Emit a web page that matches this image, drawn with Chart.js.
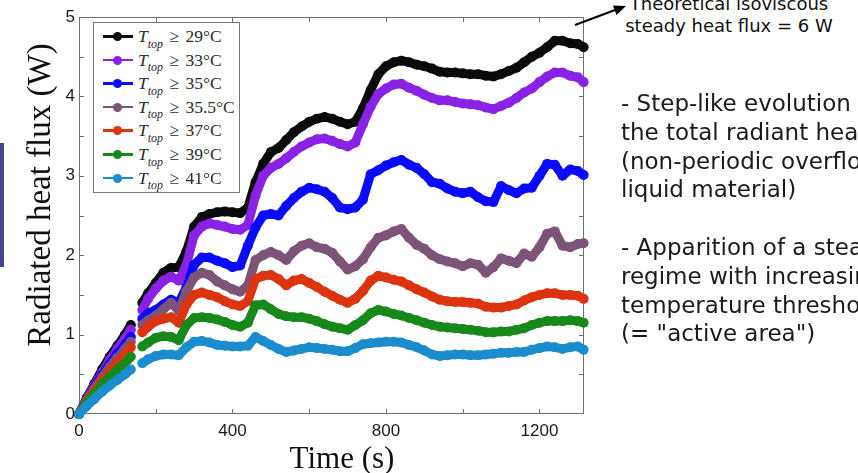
<!DOCTYPE html>
<html>
<head>
<meta charset="utf-8">
<script src="https://cdn.jsdelivr.net/npm/chart.js@4.4.1/dist/chart.umd.min.js"></script>
<style>
  html, body { margin: 0; padding: 0; background: #fff; width: 858px; height: 473px; overflow: hidden; }
  body { position: relative; }
  #wrap { position: absolute; left: 0; top: 0; width: 600px; height: 473px; }
  .sidebar { position: absolute; left: 0; top: 143px; width: 4px; height: 124px; background: #45458c; }
  .ytitle { position: absolute; left: -163px; top: 179px; width: 400px; height: 32px; line-height: 32px;
            text-align: center; font: 33px "Liberation Serif", serif; color: #111; white-space: nowrap;
            transform: rotate(-90deg); }
  .xtitle { position: absolute; left: 242px; top: 440px; width: 200px; line-height: 30px;
            text-align: center; font: 31px "Liberation Serif", serif; color: #111; white-space: nowrap; }
  .legend { position: absolute; left: 93px; top: 22px; width: 147px; height: 171px; box-sizing: border-box;
            border: 1px solid #777; background: #fff; }
  .row { position: absolute; left: 0; width: 100%; height: 20px; }
  .ln { position: absolute; left: 9px; top: 9px; width: 30px; height: 2.5px; }
  .dot { position: absolute; left: 19px; top: 6px; width: 9px; height: 9px; border-radius: 50%; }
  .lab { position: absolute; left: 44px; top: 0; font: 17.5px "Liberation Serif", serif; line-height: 20px;
         color: #2a2a2a; white-space: nowrap; }
  .lab sub { font-size: 12px; position: relative; top: 1px; }
  .lab .ge { padding: 0 2px; }
  .note { position: absolute; left: 600px; top: -7px; width: 258px; text-align: center;
          font: 18px "DejaVu Sans", sans-serif; line-height: 22px; color: #111; white-space: nowrap; }
  .points { position: absolute; left: 621px; top: 89px; font: 23px "DejaVu Sans", sans-serif;
            line-height: 28.8px; color: #1a1a1a; white-space: nowrap; }
</style>
</head>
<body>
<div class="sidebar"></div>
<div id="wrap"><canvas id="fluxChart"></canvas></div>
<div class="ytitle">Radiated heat flux (W)</div>
<div class="xtitle">Time (s)</div>
<div class="legend" id="legend"></div>
<div class="note">Theoretical isoviscous<br>steady heat flux = 6 W</div>
<svg style="position:absolute;left:0;top:0" width="858" height="473">
  <line x1="575" y1="25" x2="615" y2="10" stroke="#000" stroke-width="2"/>
  <polygon points="626,6 616.5,14.9 613,5.5" fill="#000"/>
</svg>
<div class="points">
  - Step-like evolution of<br>
  the total radiant heat flux<br>
  (non-periodic overflow of<br>
  liquid material)<br>
  <br>
  - Apparition of a steady<br>
  regime with increasing<br>
  temperature threshold<br>
  (= "active area")
</div>

<script>
// time (s); 150 is the gap in the record
const times = [0, 20, 40, 60, 80, 100, 120, 135, 150,
    165, 180, 200, 220, 240, 260, 280, 300, 320, 340,
    360, 380, 400, 420, 440, 460, 480, 500, 520, 540,
    560, 580, 600, 620, 640, 660, 680, 700, 720, 740,
    760, 780, 800, 820, 840, 860, 880, 900, 920, 940,
    960, 980, 1000, 1020, 1040, 1060, 1080, 1100, 1120, 1140,
    1160, 1180, 1200, 1220, 1240, 1260, 1280, 1300, 1315];

const flux29 = [0, 0.2, 0.38, 0.56, 0.72, 0.86, 1.0, 1.12, null,
    1.40, 1.52, 1.65, 1.78, 1.84, 1.85, 2.05, 2.36, 2.48, 2.52,
    2.54, 2.55, 2.54, 2.53, 2.60, 2.92, 3.15, 3.30, 3.35, 3.45,
    3.55, 3.62, 3.68, 3.72, 3.74, 3.72, 3.68, 3.65, 3.68, 3.85,
    4.08, 4.28, 4.38, 4.43, 4.45, 4.43, 4.40, 4.38, 4.35, 4.31,
    4.30, 4.30, 4.29, 4.28, 4.28, 4.26, 4.25, 4.28, 4.32, 4.36,
    4.43, 4.50, 4.55, 4.62, 4.70, 4.70, 4.67, 4.66, 4.62];

const flux33 = [0, 0.19, 0.36, 0.52, 0.68, 0.82, 0.95, 1.06, null,
    1.31, 1.45, 1.58, 1.68, 1.73, 1.68, 1.88, 2.25, 2.36, 2.40,
    2.38, 2.36, 2.33, 2.32, 2.38, 2.75, 3.00, 3.10, 3.15, 3.22,
    3.30, 3.37, 3.42, 3.46, 3.47, 3.44, 3.40, 3.37, 3.42, 3.65,
    3.87, 4.03, 4.10, 4.15, 4.16, 4.11, 4.07, 4.02, 3.98, 3.95,
    3.95, 3.93, 3.91, 3.90, 3.89, 3.86, 3.84, 3.88, 3.92, 3.98,
    4.05, 4.10, 4.18, 4.25, 4.30, 4.30, 4.26, 4.24, 4.18];

const flux35 = [0, 0.18, 0.34, 0.49, 0.63, 0.76, 0.87, 0.97, null,
    1.20, 1.27, 1.31, 1.38, 1.44, 1.40, 1.60, 1.88, 1.97, 1.97,
    1.93, 1.90, 1.85, 1.87, 2.12, 2.35, 2.50, 2.52, 2.50, 2.62,
    2.72, 2.80, 2.85, 2.83, 2.80, 2.72, 2.60, 2.58, 2.60, 2.70,
    3.02, 3.07, 3.13, 3.17, 3.20, 3.14, 3.10, 3.02, 2.92, 2.90,
    2.84, 2.80, 2.78, 2.80, 2.73, 2.68, 2.67, 2.87, 2.82, 2.78,
    2.84, 2.85, 3.00, 3.15, 3.14, 3.00, 3.08, 3.06, 3.01];

const flux355 = [0, 0.17, 0.32, 0.46, 0.59, 0.71, 0.82, 0.91, null,
    1.12, 1.18, 1.24, 1.32, 1.40, 1.30, 1.55, 1.72, 1.78, 1.75,
    1.67, 1.62, 1.57, 1.54, 1.62, 1.94, 2.00, 2.04, 2.00, 1.94,
    2.05, 2.12, 2.15, 2.10, 2.08, 2.03, 1.92, 1.82, 1.86, 1.95,
    2.10, 2.22, 2.25, 2.30, 2.33, 2.22, 2.13, 2.08, 2.00, 1.95,
    1.92, 1.90, 1.86, 1.90, 1.88, 1.78, 1.85, 1.96, 1.93, 1.90,
    2.02, 1.98, 2.10, 2.27, 2.30, 2.12, 2.10, 2.14, 2.15];

const flux37 = [0, 0.16, 0.3, 0.42, 0.54, 0.65, 0.75, 0.84, null,
    1.03, 1.10, 1.17, 1.20, 1.22, 1.15, 1.38, 1.50, 1.53, 1.50,
    1.47, 1.42, 1.38, 1.36, 1.42, 1.70, 1.74, 1.75, 1.70, 1.62,
    1.68, 1.70, 1.65, 1.60, 1.54, 1.49, 1.44, 1.40, 1.45, 1.55,
    1.68, 1.74, 1.72, 1.69, 1.67, 1.62, 1.57, 1.53, 1.48, 1.44,
    1.42, 1.41, 1.41, 1.40, 1.39, 1.35, 1.34, 1.34, 1.36, 1.38,
    1.43, 1.47, 1.50, 1.52, 1.52, 1.50, 1.50, 1.49, 1.45];

const flux39 = [0, 0.14, 0.26, 0.37, 0.47, 0.56, 0.64, 0.72, null,
    0.85, 0.90, 0.96, 0.98, 0.97, 0.93, 1.12, 1.21, 1.22, 1.21,
    1.19, 1.16, 1.12, 1.10, 1.15, 1.37, 1.38, 1.32, 1.26, 1.23,
    1.22, 1.22, 1.20, 1.17, 1.13, 1.10, 1.08, 1.06, 1.12, 1.18,
    1.27, 1.31, 1.29, 1.26, 1.24, 1.21, 1.18, 1.15, 1.12, 1.10,
    1.09, 1.08, 1.07, 1.06, 1.05, 1.03, 1.03, 1.04, 1.04, 1.06,
    1.08, 1.12, 1.15, 1.17, 1.17, 1.17, 1.18, 1.17, 1.15];

const flux41 = [0, 0.1, 0.19, 0.28, 0.36, 0.43, 0.5, 0.56, null,
    0.64, 0.69, 0.73, 0.75, 0.75, 0.74, 0.84, 0.91, 0.92, 0.90,
    0.87, 0.86, 0.85, 0.85, 0.86, 0.97, 0.92, 0.87, 0.82, 0.78,
    0.80, 0.82, 0.84, 0.83, 0.82, 0.81, 0.79, 0.79, 0.83, 0.88,
    0.89, 0.90, 0.91, 0.91, 0.90, 0.87, 0.84, 0.80, 0.75, 0.73,
    0.74, 0.75, 0.75, 0.74, 0.74, 0.75, 0.76, 0.77, 0.77, 0.78,
    0.78, 0.81, 0.83, 0.85, 0.84, 0.82, 0.84, 0.85, 0.81];

const thresholds = ["29", "33", "35", "35.5", "37", "39", "41"];
const seriesValues = [flux29, flux33, flux35, flux355, flux37, flux39, flux41];
const colors = ["#0b0b0b", "#8a22e6", "#0a0aff", "#7d5378", "#dd3410", "#17881a", "#1b8dce"];

const xTickMarks = [0, 200, 400, 600, 800, 1000, 1200];
const xTicks = [0, 400, 800, 1200];
const yTicks = [0, 1, 2, 3, 4, 5];

// legend in html so the subscript stays real text
const legend = document.getElementById("legend");
thresholds.forEach((th, i) => {
    const row = document.createElement("div");
    row.className = "row";
    row.style.top = (3 + i * 23.6) + "px";
    row.innerHTML =
        '<span class="ln" style="background:' + colors[i] + '"></span>' +
        '<span class="dot" style="background:' + colors[i] + '"></span>' +
        '<span class="lab"><i>T</i><sub><i>top</i></sub><span class="ge"> \u2265 </span>' + th + '\u00b0C</span>';
    legend.appendChild(row);
});

// box around the plot with small inward ticks on all four sides
const frameTicks = {
    id: "frameTicks",
    beforeDatasetsDraw(chart) {
        const { ctx, chartArea: a, scales: { x, y } } = chart;
        ctx.save();
        ctx.strokeStyle = "#707070";
        ctx.lineWidth = 1;
        ctx.beginPath();
        x.ticks.forEach((t) => {
            if (t.value <= x.min || t.value >= x.max) return;
            const px = Math.round(x.getPixelForValue(t.value)) + 0.5;
            ctx.moveTo(px, a.bottom); ctx.lineTo(px, a.bottom - 5);
            ctx.moveTo(px, a.top); ctx.lineTo(px, a.top + 5);
        });
        y.ticks.forEach((t) => {
            if (t.value <= y.min || t.value >= y.max) return;
            const py = Math.round(y.getPixelForValue(t.value)) + 0.5;
            ctx.moveTo(a.left, py); ctx.lineTo(a.left + 5, py);
            ctx.moveTo(a.right, py); ctx.lineTo(a.right - 5, py);
        });
        ctx.stroke();
        ctx.strokeRect(a.left + 0.5, a.top + 0.5, a.right - a.left - 1, a.bottom - a.top - 1);
        ctx.restore();
    },
};

const datasets = seriesValues.map((vals, i) => ({
    label: "T_top >= " + thresholds[i] + " C",
    data: times.map((t, k) => ({ x: t, y: vals[k] })),
    borderColor: colors[i],
    backgroundColor: colors[i],
    borderWidth: 9,
    pointRadius: 5,
    pointBorderWidth: 0,
    pointHoverRadius: 5,
    borderJoinStyle: "round",
    borderCapStyle: "round",
    tension: 0,
    spanGaps: false,
    clip: false,
    order: seriesValues.length - i,
}));

new Chart(document.getElementById("fluxChart"), {
    type: "line",
    data: { datasets: datasets },
    options: {
        responsive: true,
        maintainAspectRatio: false,
        animation: false,
        layout: { padding: { left: 0, top: 17, right: 16, bottom: 0 } },
        plugins: {
            legend: { display: false },
            tooltip: { enabled: false },
        },
        scales: {
            x: {
                type: "linear",
                min: 0,
                max: 1316,
                grid: { display: false, drawTicks: false },
                border: { display: false },
                afterFit: (s) => { s.height = 59; },
                afterBuildTicks: (s) => { s.ticks = xTickMarks.map((v) => ({ value: v })); },
                ticks: {
                    autoSkip: false,
                    maxRotation: 0,
                    padding: 7,
                    color: "#1a1a1a",
                    font: { family: "Liberation Sans", size: 17 },
                    callback: (v) => (xTicks.includes(v) ? String(v) : ""),
                },
            },
            y: {
                min: 0,
                max: 5,
                grid: { display: false, drawTicks: false },
                border: { display: false },
                afterFit: (s) => { s.width = 79; },
                ticks: {
                    stepSize: 0.5,
                    autoSkip: false,
                    padding: 4,
                    color: "#1a1a1a",
                    font: { family: "Liberation Sans", size: 17 },
                    callback: (v) => (yTicks.includes(v) ? String(v) : ""),
                },
            },
        },
    },
    plugins: [frameTicks],
});
</script>
</body>
</html>
